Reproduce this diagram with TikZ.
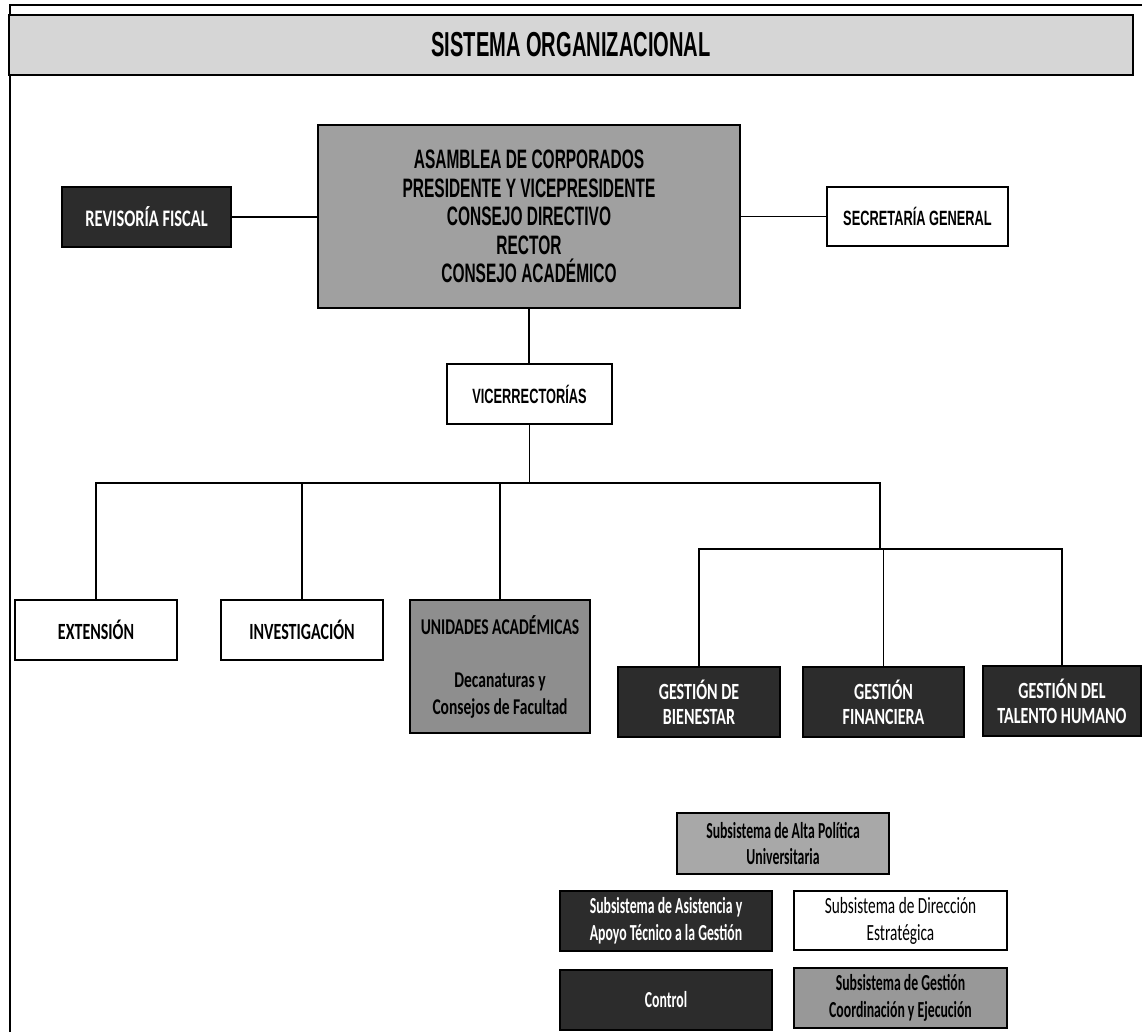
\documentclass[tikz,border=0pt]{standalone}
\usepackage{fontspec}
\setmainfont{Liberation Sans}
\newfontfamily\narfont[FakeStretch=0.58]{Liberation Sans}
\newfontfamily\narbfont[FakeStretch=0.62]{Liberation Sans}
\newfontfamily\calfont[FakeStretch=0.69]{Carlito}
\newfontfamily\calsfont[FakeStretch=0.6]{Carlito}
\newfontfamily\calrfont[FakeStretch=0.66]{Carlito}
\definecolor{darkc}{RGB}{44,44,44}
\definecolor{titlec}{RGB}{214,214,214}
\definecolor{bigc}{RGB}{160,160,160}
\definecolor{unic}{RGB}{142,142,142}
\definecolor{altac}{RGB}{168,168,168}
\definecolor{coordc}{RGB}{152,152,152}
\begin{document}
\begin{tikzpicture}[x=0.75pt,y=-0.75pt,
  rect/.style n args={4}{minimum width={(#3-#1)*0.75pt}, minimum height={(#4-#2)*0.75pt},
     at={({(#1+#3)/2},{(#2+#4)/2})}},
  box/.style={draw=black, line width=1.5pt, inner sep=0pt, align=center},
  wbox/.style={box, fill=white, text=black},
  dbox/.style={box, fill=darkc, text=white},
  gbox/.style={box, fill=#1, text=black},
  conn/.style={draw=black, line width=1pt},
  narcaps/.style={font=\narbfont\bfseries\fontsize{15.5}{18}\selectfont},
  calcaps/.style={font=\calfont\bfseries\fontsize{17.4}{19}\selectfont},
  subs/.style={font=\calsfont\bfseries\fontsize{17.2}{20.2}\selectfont},
  subsreg/.style={font=\calrfont\fontsize{17.4}{20.2}\selectfont}
]
\useasboundingbox (0,0) rectangle (1142,1032);
\fill[white] (0,0) rectangle (1142,1032);
% outer frame
\draw[line width=1pt] (10,1032) -- (10,5) -- (1142,5);

% title
\node[box, fill=titlec, rect={9}{15}{1133}{75}, font=\narfont\bfseries\fontsize{26}{28}\selectfont] (title) {SISTEMA ORGANIZACIONAL};

% top level
\node[gbox=bigc, rect={318}{125}{740}{308}, font=\narfont\bfseries\fontsize{20}{21.4}\selectfont] (big)
  {ASAMBLEA DE CORPORADOS\\PRESIDENTE Y VICEPRESIDENTE\\CONSEJO DIRECTIVO\\RECTOR\\CONSEJO ACADÉMICO};
\node[dbox, rect={62}{187}{231}{247}, font=\calfont\bfseries\fontsize{17.8}{20}\selectfont] (rev) {REVISORÍA FISCAL};
\node[wbox, rect={827}{187}{1008}{246}, narcaps] (sec) {SECRETARÍA GENERAL};
\node[wbox, rect={447}{364}{612}{424}, narcaps] (vic) {VICERRECTORÍAS};

% second level
\node[wbox, rect={15}{600}{177}{660}, calcaps] (ext) {EXTENSIÓN};
\node[wbox, rect={221}{600}{383}{660}, calcaps] (inv) {INVESTIGACIÓN};
\node[gbox=unic, rect={410}{600}{590}{733}, font=\calfont\bfseries\fontsize{16.9}{20}\selectfont] (uni)
  {UNIDADES ACADÉMICAS\\[20pt]Decanaturas y\\Consejos de Facultad};
\node[dbox, rect={618}{667}{780}{737}, calcaps] (bien) {GESTIÓN DE\\BIENESTAR};
\node[dbox, rect={803}{667}{964}{737}, calcaps] (fin) {GESTIÓN\\FINANCIERA};
\node[dbox, rect={983}{666}{1141}{736}, calcaps] (tal) {GESTIÓN DEL\\TALENTO HUMANO};

% legend
\node[gbox=altac, rect={677}{813}{889}{874}, subs] (alta) {Subsistema de Alta Política\\Universitaria};
\node[dbox, rect={560}{891}{772}{951}, subs] (asis) {Subsistema de Asistencia y\\Apoyo Técnico a la Gestión};
\node[wbox, rect={794}{891}{1007}{950}, subsreg] (dir) {Subsistema de Dirección\\Estratégica};
\node[dbox, rect={560}{970}{772}{1030}, subs] (ctrl) {Control};
\node[gbox=coordc, rect={794}{968}{1007}{1028}, subs] (coord) {Subsistema de Gestión\\Coordinación y Ejecución};

% connectors
\coordinate (bus) at (529.5,483);
\coordinate (rbus) at (880,483);
\coordinate (sub) at (880,549);
\draw[conn] (rev.east) -- (rev.east -| big.west);
\draw[conn] (big.east |- sec.west) -- (sec.west);
\draw[conn] (big.south) -- (big.south |- vic.north);
\draw[conn] (vic.south) -- (bus);
\draw[conn] (ext.north) -- (ext.north |- bus) -- (rbus) -- (sub);
\draw[conn] (inv.north) -- (inv.north |- bus);
\draw[conn] (uni.north) -- (uni.north |- bus);
\draw[conn] (bien.north) -- (bien.north |- sub) -- (tal.north |- sub) -- (tal.north);
\draw[conn] (fin.north) -- (fin.north |- sub);
\end{tikzpicture}
\end{document}
